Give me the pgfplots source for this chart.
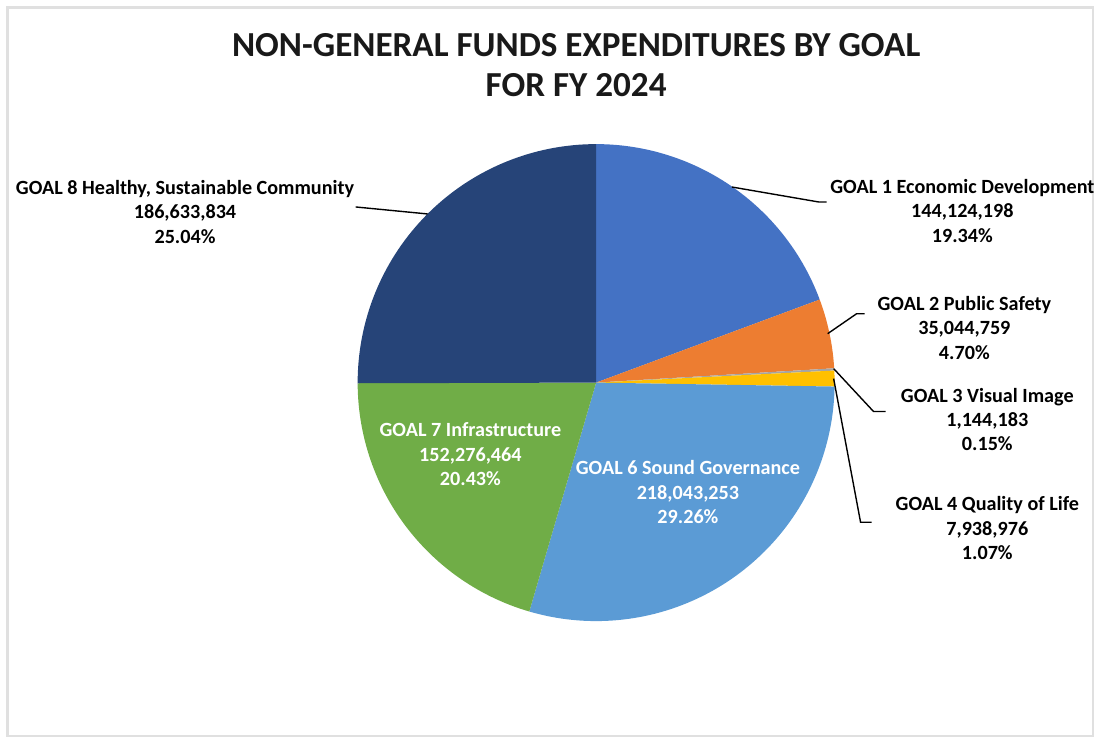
\documentclass[border=0pt]{standalone}
\usepackage{pgfplots}
\pgfplotsset{compat=1.18}
\usepackage{fontspec}
\setmainfont{Carlito}
\definecolor{gA}{HTML}{4472C4}
\definecolor{gB}{HTML}{ED7D31}
\definecolor{gC}{HTML}{A5A5A5}
\definecolor{gD}{HTML}{FFC000}
\definecolor{gF}{HTML}{5B9BD5}
\definecolor{gG}{HTML}{70AD47}
\definecolor{gH}{HTML}{264478}
% values (millions)
\def\vA{144.124198}
\def\vB{35.044759}
\def\vC{1.144183}
\def\vD{7.938976}
\def\vF{218.043253}
\def\vG{152.276464}
\def\vH{186.633834}
\pgfmathsetmacro{\tot}{\vA+\vB+\vC+\vD+\vF+\vG+\vH}
\pgfmathsetmacro{\aA}{90}
\pgfmathsetmacro{\aB}{90-360*((\vA)/\tot)}
\pgfmathsetmacro{\aC}{90-360*((\vA+\vB)/\tot)}
\pgfmathsetmacro{\aD}{90-360*((\vA+\vB+\vC)/\tot)}
\pgfmathsetmacro{\aF}{90-360*((\vA+\vB+\vC+\vD)/\tot)}
\pgfmathsetmacro{\aG}{90-360*((\vA+\vB+\vC+\vD+\vF)/\tot)}
\pgfmathsetmacro{\aH}{90-360*((\vA+\vB+\vC+\vD+\vF+\vG)/\tot)}
\pgfmathsetmacro{\aEnd}{-270}
\def\cx{597}\def\cy{383}\def\R{239}
\newcommand{\lbl}{\fontsize{10.1bp}{12.25bp}\selectfont\bfseries}
\newcommand{\ttl}{\fontsize{17.6bp}{20bp}\selectfont\bfseries}
\begin{document}
\begin{tikzpicture}
\begin{axis}[hide axis, scale only axis, width=550.5bp, height=371bp,
  xmin=0, xmax=1101, ymin=0, ymax=742, y dir=reverse, clip=false]
% frame
\draw[white] (axis cs:0,0) rectangle (axis cs:1101,742);
\draw[black!12, line width=1.2bp] (axis cs:7,7) rectangle (axis cs:1095,737);
% wedges
\addplot[fill=gA, draw=none, domain=\aB:\aA, samples=60, variable=\t] ({\cx+\R*cos(\t)},{\cy-\R*sin(\t)}) -- (axis cs:\cx,\cy) -- cycle;
\addplot[fill=gB, draw=none, domain=\aC:\aB, samples=20, variable=\t] ({\cx+\R*cos(\t)},{\cy-\R*sin(\t)}) -- (axis cs:\cx,\cy) -- cycle;
\addplot[fill=gC, draw=none, domain=\aD:\aC, samples=4, variable=\t] ({\cx+\R*cos(\t)},{\cy-\R*sin(\t)}) -- (axis cs:\cx,\cy) -- cycle;
\addplot[fill=gD, draw=none, domain=\aF:\aD, samples=6, variable=\t] ({\cx+\R*cos(\t)},{\cy-\R*sin(\t)}) -- (axis cs:\cx,\cy) -- cycle;
\addplot[fill=gF, draw=none, domain=\aG:\aF, samples=80, variable=\t] ({\cx+\R*cos(\t)},{\cy-\R*sin(\t)}) -- (axis cs:\cx,\cy) -- cycle;
\addplot[fill=gG, draw=none, domain=\aH:\aG, samples=60, variable=\t] ({\cx+\R*cos(\t)},{\cy-\R*sin(\t)}) -- (axis cs:\cx,\cy) -- cycle;
\addplot[fill=gH, draw=none, domain=\aEnd:\aH, samples=70, variable=\t] ({\cx+\R*cos(\t)},{\cy-\R*sin(\t)}) -- (axis cs:\cx,\cy) -- cycle;
% leader lines
\addplot[black, line width=0.7bp] coordinates {(733,187) (820,202) (828,202)};
\addplot[black, line width=0.7bp] coordinates {(829,334) (858,314) (866,314)};
\addplot[black, line width=0.7bp] coordinates {(835,369) (875,412) (887,412)};
\addplot[black, line width=0.7bp] coordinates {(835,379) (862,523) (873,523)};
\addplot[black, line width=0.7bp] coordinates {(428,214) (356,207)};
% title
\node[font=\ttl, align=center, text=black!90] at (axis cs:577,65) {NON-GENERAL FUNDS EXPENDITURES BY GOAL\\FOR FY 2024};
% labels
\node[font=\lbl, align=center] at (axis cs:964,211) {GOAL 1 Economic Development\\144,124,198\\19.34\%};
\node[font=\lbl, align=center] at (axis cs:966,328) {GOAL 2 Public Safety\\35,044,759\\4.70\%};
\node[font=\lbl, align=center] at (axis cs:989,420) {GOAL 3 Visual Image\\1,144,183\\0.15\%};
\node[font=\lbl, align=center] at (axis cs:989,529) {GOAL 4 Quality of Life\\7,938,976\\1.07\%};
\node[font=\lbl, align=center, text=white] at (axis cs:689,493) {GOAL 6 Sound Governance\\218,043,253\\29.26\%};
\node[font=\lbl, align=center, text=white] at (axis cs:471,455) {GOAL 7 Infrastructure\\152,276,464\\20.43\%};
\node[font=\lbl, align=center] at (axis cs:185,212) {GOAL 8 Healthy, Sustainable Community\\186,633,834\\25.04\%};
\end{axis}
\end{tikzpicture}
\end{document}
